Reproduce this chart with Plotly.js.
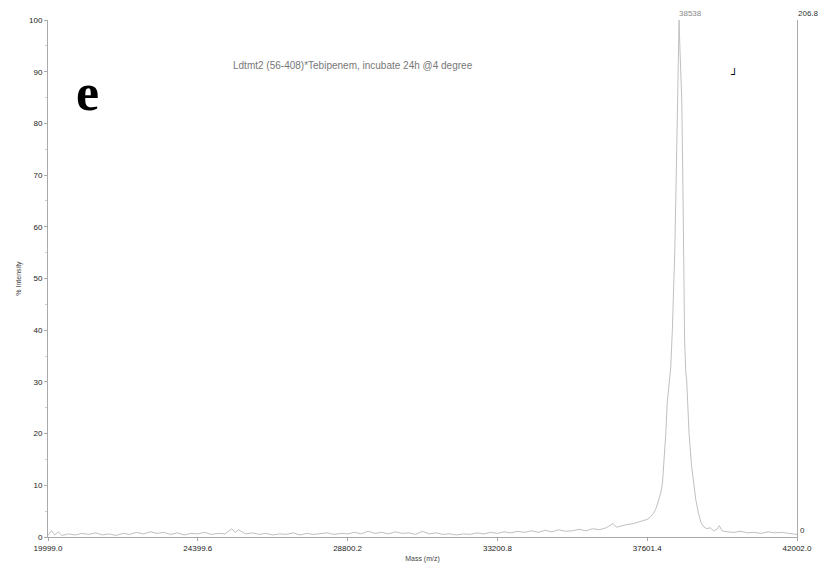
<!DOCTYPE html>
<html>
<head>
<meta charset="utf-8">
<script src="https://cdn.plot.ly/plotly-3.0.1.min.js"></script>
<style>html,body{margin:0;padding:0;background:#fff;}#chart{width:820px;height:567px;}</style>
</head>
<body>
<div id="chart"></div>
<script>
const mass = [19999,20100,20200,20300,20400,20600,20800,21000,21200,21400,21600,21800,22000,22200,22400,22600,22800,23000,23200,23400,23600,23800,24000,24200,24400,24600,24800,25000,25200,25400,25500,25600,25800,26000,26200,26400,26600,26800,27000,27200,27400,27600,27800,28000,28200,28400,28600,28800,29000,29200,29400,29600,29800,30000,30200,30400,30600,30800,31000,31200,31400,31600,31800,32000,32200,32400,32600,32800,33000,33200,33400,33600,33800,34000,34200,34400,34600,34800,35000,35200,35400,35600,35800,36000,36200,36400,36600,36700,36800,37000,37200,37400,37600,37700,37786,37860,37942,38000,38050,38100,38147,38190,38227,38260,38294,38340,38373,38410,38441,38470,38500,38520,38538,38560,38590,38617,38656,38676,38700,38735,38760,38790,38832,38900,38961,39029,39108,39180,39260,39350,39450,39550,39650,39720,39800,39950,40150,40350,40550,40750,40950,41150,41350,41550,41750,41900,42002];
const intensity = [0.3,1.2,0.4,1.0,0.3,0.6,0.4,0.7,0.5,0.8,0.4,0.6,0.3,0.7,0.5,0.9,0.6,1.0,0.7,0.9,0.5,0.8,0.4,0.7,0.6,0.9,0.5,0.7,0.6,1.6,0.9,1.4,0.6,0.8,0.5,0.7,0.4,0.6,0.5,0.8,0.4,0.7,0.5,0.6,0.8,0.5,0.7,0.6,0.9,0.6,1.1,0.7,0.9,0.6,1.0,0.7,0.8,0.5,1.1,0.6,0.8,0.5,0.6,0.4,0.6,0.5,0.8,0.6,0.9,0.7,1.0,0.8,1.1,0.9,1.2,0.9,1.3,1.0,1.4,1.1,1.2,1.5,1.2,1.6,1.4,1.8,2.6,1.9,2.1,2.4,2.6,3.0,3.4,3.9,4.6,5.5,7.2,8.5,10.4,15,20,26,29,30.5,32.9,40,45.8,55,65,75,84.5,93,100,95,90,84.5,65,45.8,38,31.7,30.5,26,20,14,10.4,7.2,4.6,2.8,2.0,1.6,1.8,1.2,1.5,2.2,1.2,1.0,0.9,1.1,0.8,0.9,0.7,1.0,0.8,0.9,0.7,0.6,0.5];

const xTickVals = [19999.0, 24399.6, 28800.2, 33200.8, 37601.4, 42002.0];
const xTickText = ['19999.0', '24399.6', '28800.2', '33200.8', '37601.4', '42002.0'];
const yTickVals = [0,10,20,30,40,50,60,70,80,90,100];

const titleText = 'Ldtmt2 (56-408)*Tebipenem, incubate 24h @4 degree';
const peakLabel = '38538';
const rightTop = '206.8';
const rightBottom = '0';

const trace = {
  x: mass, y: intensity, type: 'scatter', mode: 'lines',
  line: {color: '#c0c0c0', width: 1}, hoverinfo: 'skip', showlegend: false
};

const tickFont = {family: 'Liberation Sans, Arial, sans-serif', size: 8, color: '#222'};

const layout = {
  width: 820, height: 567,
  margin: {l: 48, r: 23, t: 20, b: 30},
  paper_bgcolor: '#fff', plot_bgcolor: '#fff',
  showlegend: false,
  xaxis: {
    range: [19999, 42002], tickvals: xTickVals, ticktext: xTickText,
    showgrid: false, zeroline: false, showline: true, linecolor: '#aaa', linewidth: 1,
    ticks: 'outside', ticklen: 3, tickcolor: '#aaa', tickfont: tickFont,
    title: {text: 'Mass (m/z)', font: {family: 'Liberation Sans, Arial, sans-serif', size: 7, color: '#444'}, standoff: 4}
  },
  yaxis: {
    range: [0, 100], tickvals: yTickVals,
    showgrid: false, zeroline: false, showline: true, linecolor: '#aaa', linewidth: 1,
    mirror: true,
    ticks: 'outside', ticklen: 3, tickcolor: '#aaa', tickfont: tickFont,
    minor: {ticks: 'outside', ticklen: 2, tickcolor: '#ccc', dtick: 5},
    title: {text: '% Intensity', font: {family: 'Liberation Sans, Arial, sans-serif', size: 7, color: '#444'}, standoff: 6}
  },
  annotations: [
    {text: titleText, xref: 'paper', yref: 'paper', x: 0.407, y: 0.926, showarrow: false,
     font: {family: 'Liberation Sans, Arial, sans-serif', size: 10, color: '#777'}},
    {text: peakLabel, xref: 'x', yref: 'paper', x: 38480, y: 1.0, yanchor: 'bottom', xanchor: 'left', showarrow: false,
     font: {family: 'Liberation Sans, Arial, sans-serif', size: 8, color: '#888'}},
    {text: rightTop, xref: 'paper', yref: 'paper', x: 0.999, y: 1.0, yanchor: 'bottom', xanchor: 'left', showarrow: false,
     font: {family: 'Liberation Sans, Arial, sans-serif', size: 8, color: '#333'}},
    {text: rightBottom, xref: 'paper', yref: 'paper', x: 1.002, y: 0.0, yanchor: 'bottom', xanchor: 'left', showarrow: false,
     font: {family: 'Liberation Sans, Arial, sans-serif', size: 8, color: '#333'}},
    {text: '<b>e</b>', xref: 'paper', yref: 'paper', x: 0.035, y: 0.918, showarrow: false,
     font: {family: 'Liberation Serif, Times New Roman, serif', size: 52, color: '#000'}},
    {text: '<b>┘</b>', xref: 'paper', yref: 'paper', x: 0.924, y: 0.912, showarrow: false,
     font: {family: 'DejaVu Sans, sans-serif', size: 11, color: '#000'}}
  ]
};

Plotly.newPlot('chart', [trace], layout, {staticPlot: true, displayModeBar: false});
</script>
</body>
</html>
